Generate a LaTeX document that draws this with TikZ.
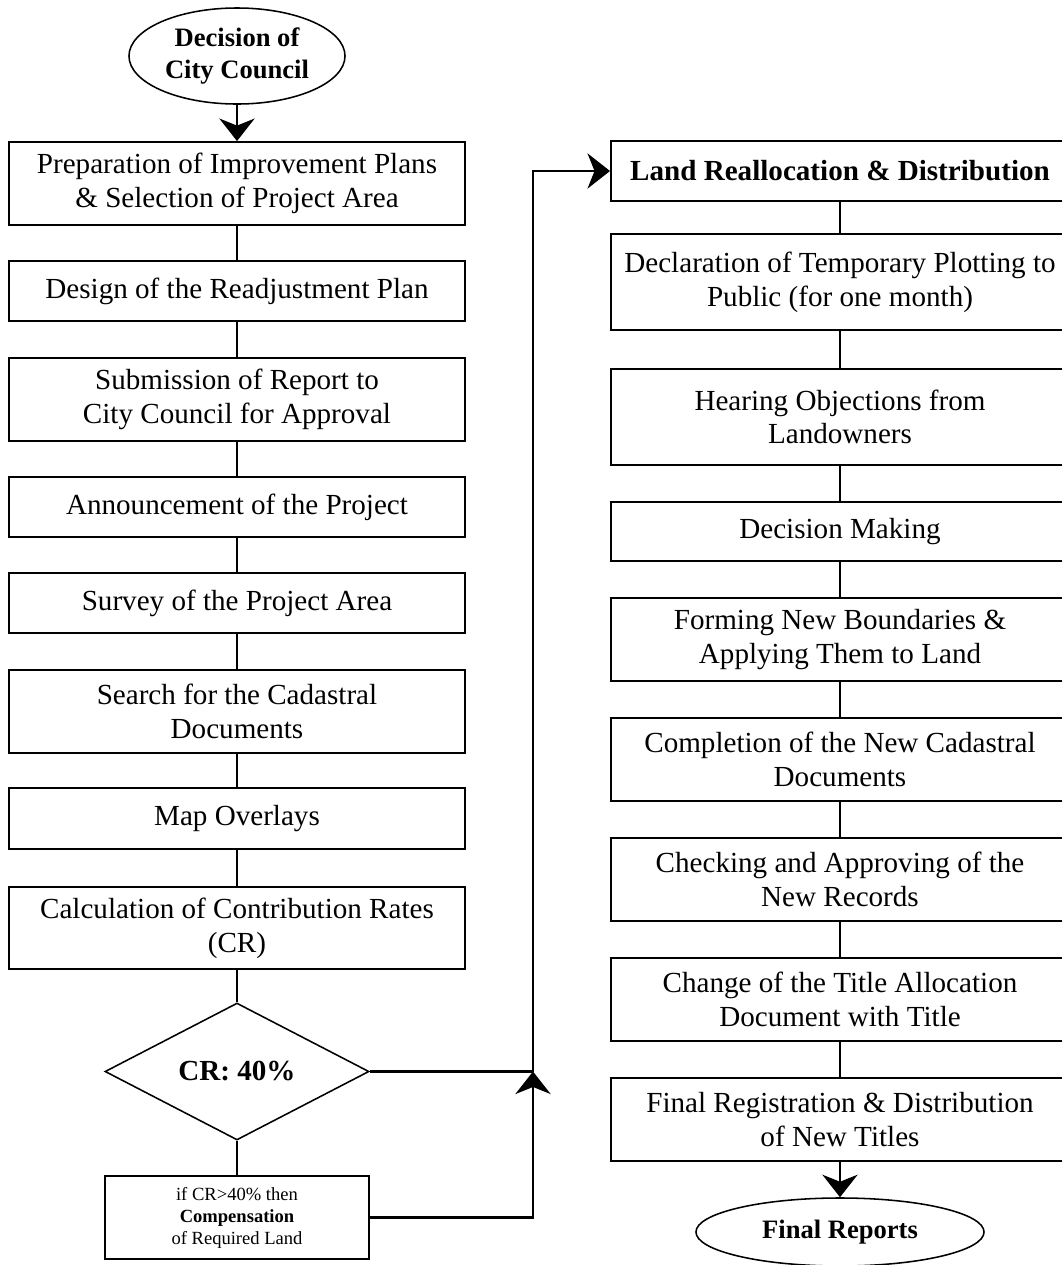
\documentclass[tikz,border=0pt]{standalone}
\usepackage{fontspec}
\setmainfont{Liberation Serif}
\usepackage{tikz}
\usetikzlibrary{arrows.meta,positioning,shapes.geometric}

\begin{document}
\begin{tikzpicture}[x=0.025cm,y=-0.025cm,
  stepbox/.style={draw,line width=1.3pt,inner sep=0pt,align=center,font=\fontsize{20.7}{24}\selectfont},
  leftbox/.style={stepbox,minimum width=11.4cm},
  rightbox/.style={stepbox,minimum width=11.45cm},
  terminal/.style={draw,ellipse,line width=1.1pt,inner sep=0pt,align=center,font=\bfseries\fontsize{18.9}{22.8}\selectfont},
  link/.style={line width=2pt},
  flow/.style={link,-{Stealth[length=16pt,width=25pt,inset=5pt]}}]
\useasboundingbox (0,0) rectangle (1062,1265);
% left column
\node[terminal,minimum width=5.4cm,minimum height=2.4cm] (council) at (237,56) {Decision of\\City Council};
\node[leftbox,minimum height=2.075cm] (prep) at (237,183.5) {Preparation of Improvement Plans\\\& Selection of Project Area};
\node[leftbox,minimum height=1.5cm] (design) at (237,291) {Design of the Readjustment Plan};
\node[leftbox,minimum height=2.075cm] (submit) at (237,399.5) {Submission of Report to\\City Council for Approval};
\node[leftbox,minimum height=1.5cm] (announce) at (237,507) {Announcement of the Project};
\node[leftbox,minimum height=1.5cm] (survey) at (237,603) {Survey of the Project Area};
\node[leftbox,minimum height=2.075cm] (search) at (237,711.5) {Search for the Cadastral\\Documents};
\node[leftbox,minimum height=1.525cm] (overlay) at (237,818.5) {Map Overlays};
\node[leftbox,minimum height=2.05cm] (calc) at (237,928) {Calculation of Contribution Rates\\(CR)};
\node[draw,diamond,line width=1.1pt,inner sep=0pt,minimum width=6.6cm,minimum height=2.375cm,font=\bfseries\fontsize{20.7}{24}\selectfont] (crcheck) at (237,1071.5) {CR: 40\%};
\node[stepbox,minimum width=6.6cm,minimum height=2.075cm,font=\fontsize{13.2}{15.6}\selectfont] (comp) at (237,1217.5) {if CR>40\% then\\\textbf{Compensation}\\of Required Land};
% right column
\node[rightbox,minimum height=1.5cm,font=\bfseries\fontsize{20.7}{24}\selectfont] (realloc) at (840,171) {Land Reallocation \& Distribution};
\node[rightbox,minimum height=2.4cm] (declare) at (840,282) {Declaration of Temporary Plotting to\\Public (for one month)};
\node[rightbox,minimum height=2.4cm] (hearing) at (840,417) {Hearing Objections from\\Landowners};
\node[rightbox,minimum height=1.475cm] (decide) at (840,531.5) {Decision Making};
\node[rightbox,minimum height=2.075cm] (forming) at (840,639.5) {Forming New Boundaries \&\\Applying Them to Land};
\node[rightbox,minimum height=2.075cm] (complete) at (840,759.5) {Completion of the New Cadastral\\Documents};
\node[rightbox,minimum height=2.075cm] (checking) at (840,879.5) {Checking and Approving of the\\New Records};
\node[rightbox,minimum height=2.075cm] (change) at (840,999.5) {Change of the Title Allocation\\Document with Title};
\node[rightbox,minimum height=2.075cm] (register) at (840,1119.5) {Final Registration \& Distribution\\of New Titles};
\node[terminal,minimum width=7.2cm,minimum height=1.7cm] (reports) at (840,1232) {Final Reports};
\coordinate (join) at (533,1071.5);
% connectors
\draw[flow] (council) -- (prep);
\draw[link] (prep) -- (design); \draw[link] (design) -- (submit); \draw[link] (submit) -- (announce); \draw[link] (announce) -- (survey);
\draw[link] (survey) -- (search); \draw[link] (search) -- (overlay); \draw[link] (overlay) -- (calc); \draw[link] (calc) -- (crcheck); \draw[link] (crcheck) -- (comp);
\draw[link] (crcheck.east) -- (join); \draw[flow] (comp.east) -| (join); \draw[flow] (join) |- (realloc.west);
\draw[link] (realloc) -- (declare); \draw[link] (declare) -- (hearing); \draw[link] (hearing) -- (decide); \draw[link] (decide) -- (forming);
\draw[link] (forming) -- (complete); \draw[link] (complete) -- (checking); \draw[link] (checking) -- (change); \draw[link] (change) -- (register);
\draw[flow] (register) -- (reports);
\end{tikzpicture}
\end{document}
